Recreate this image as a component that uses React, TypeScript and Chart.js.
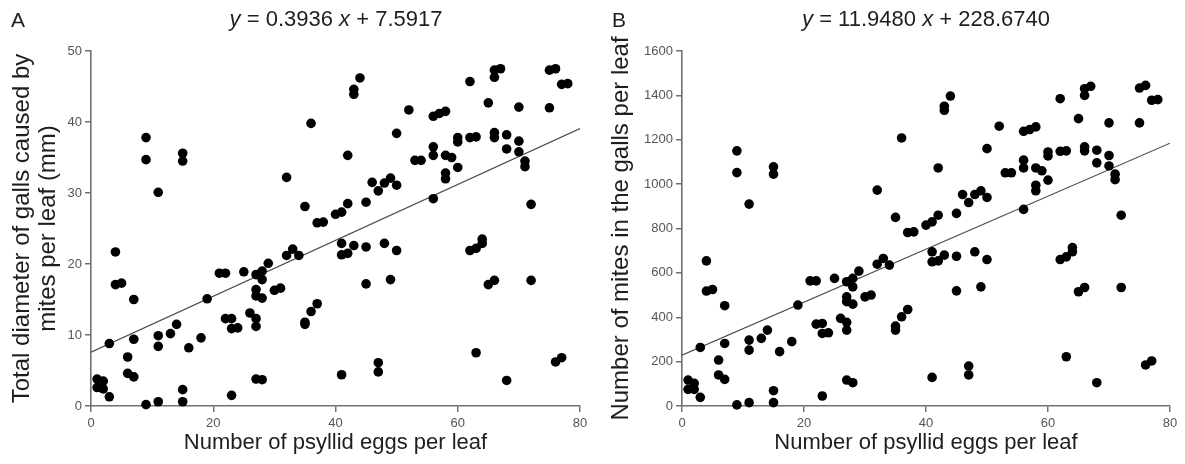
import React, { useEffect, useRef } from "react";
import { Chart, registerables } from "chart.js";

Chart.register(...registerables);

// ---------- data ----------
const eggs = [
  1, 1, 2, 2, 3, 3, 4, 4, 5, 6, 6, 7, 7, 7, 9, 9, 9, 11, 11, 11, 11, 13, 14, 15, 15, 15, 15, 16, 18, 19,
  21, 22, 22, 23, 23, 23, 24, 25, 26, 27, 27, 27, 27, 27, 27, 28, 28, 28, 28, 29, 30, 31, 32, 32, 33, 34,
  35, 35, 35, 36, 36, 37, 37, 38, 40, 41, 41, 41, 41, 42, 42, 42, 43, 43, 43, 44, 45, 45, 45, 46, 47, 47,
  47, 48, 48, 49, 49, 50, 50, 50, 52, 53, 54, 56, 56, 56, 56, 57, 58, 58, 58, 58, 59, 60, 60, 60, 62, 62,
  62, 63, 63, 63, 64, 64, 65, 65, 66, 66, 66, 66, 66, 67, 68, 68, 68, 70, 70, 70, 71, 71, 72, 72, 75, 75,
  76, 76, 77, 77, 78,
];

const gallDiameter = [
  3.8, 2.6, 3.5, 2.4, 1.3, 8.8, 21.7, 17.1, 17.3, 6.9, 4.6, 4.1, 9.4, 15.0, 0.2, 37.8, 34.7, 30.1, 9.9, 8.4,
  0.6, 10.2, 11.5, 35.6, 34.5, 2.3, 0.6, 8.2, 9.6, 15.1, 18.7, 18.7, 12.3, 12.3, 10.9, 1.5, 11.0, 18.9, 13.1,
  12.3, 11.2, 18.5, 16.4, 15.5, 3.8, 19.0, 17.8, 15.2, 3.7, 20.1, 16.3, 16.6, 32.2, 21.2, 22.1, 21.2, 28.1,
  11.8, 11.5, 39.8, 13.3, 14.4, 25.8, 25.9, 27.0, 27.3, 22.9, 21.3, 4.4, 28.5, 35.3, 21.5, 44.6, 43.9, 22.6,
  46.2, 28.7, 22.4, 17.2, 31.5, 30.3, 6.1, 4.8, 31.4, 22.9, 32.1, 17.8, 31.1, 38.4, 21.9, 41.7, 34.6, 34.6,
  40.8, 36.5, 35.3, 29.2, 41.2, 41.5, 35.3, 32.8, 32.0, 35.0, 37.8, 37.2, 33.6, 45.7, 37.8, 21.9, 37.9, 22.2,
  7.5, 22.9, 23.5, 42.7, 17.1, 47.3, 46.3, 38.5, 37.8, 17.7, 47.5, 38.2, 36.2, 3.6, 42.1, 37.3, 35.8, 34.5,
  33.7, 28.4, 17.7, 42.0, 47.3, 47.5, 6.2, 6.8, 45.3, 45.4,
];

const mites = [
  117, 75, 102, 75, 39, 264, 654, 518, 525, 207, 140, 120, 282, 452, 5, 1150, 1052, 910, 297, 252, 15, 305,
  342, 1078, 1045, 69, 15, 245, 290, 455, 564, 564, 369, 372, 327, 45, 330, 575, 395, 377, 342, 560, 492, 470,
  117, 575, 537, 459, 105, 608, 492, 500, 973, 639, 665, 635, 850, 360, 342, 1208, 402, 435, 782, 785, 815,
  830, 695, 650, 129, 860, 1073, 654, 1351, 1333, 680, 1397, 868, 675, 519, 953, 917, 180, 140, 953, 695, 970,
  537, 940, 1160, 660, 1261, 1051, 1051, 1238, 1108, 1073, 886, 1246, 1258, 1073, 995, 970, 1060, 1145, 1127,
  1018, 1385, 1148, 660, 1150, 672, 222, 695, 714, 1295, 515, 1430, 1400, 1168, 1150, 534, 1441, 1153, 1096,
  105, 1276, 1129, 1082, 1045, 1020, 860, 534, 1433, 1276, 1445, 185, 1378, 203, 1381,
];

const xTicks = [0, 20, 40, 60, 80];
const gallTicks = [0, 10, 20, 30, 40, 50];
const miteTicks = [0, 200, 400, 600, 800, 1000, 1200, 1400, 1600];

const slopeA = 0.3936;
const interceptA = 7.5917;
const slopeB = 11.948;
const interceptB = 228.674;

const xTitle = "Number of psyllid eggs per leaf";
const yTitleA = ["Total diameter of galls caused by", "mites per leaf (mm)"];
const yTitleB = "Number of mites in the galls per leaf";

// ---------- styling ----------
const FONT = "'Liberation Sans', Arial, Helvetica, sans-serif";
const AXIS = "#707070";
const TICK_TXT = "#555";
const TITLE_TXT = "#1e1e1e";
const H = 464;
const PLOT_TOP = 51;
const PLOT_BOTTOM = 406;

type PanelProps = {
  width: number;
  plotLeft: number;
  plotRight: number;
  ys: number[];
  yTicks: number[];
  yTitle: string | string[];
  yTitlePad: number;
  slope: number;
  intercept: number;
};

function Panel(p: PanelProps) {
  const ref = useRef<HTMLCanvasElement | null>(null);
  useEffect(() => {
    if (!ref.current) return;
    const pts = eggs.map((x, i) => ({ x, y: p.ys[i] }));
    const yMax = p.yTicks[p.yTicks.length - 1];
    const chart = new Chart(ref.current, {
      type: "scatter",
      data: {
        datasets: [
          {
            type: "line",
            data: [
              { x: 0, y: p.intercept },
              { x: 80, y: p.intercept + p.slope * 80 },
            ],
            borderColor: "#4d4d4d",
            borderWidth: 1.2,
            pointRadius: 0,
            fill: false,
            order: 1,
          } as any,
          {
            data: pts,
            backgroundColor: "#000",
            borderColor: "#000",
            borderWidth: 0,
            pointRadius: 4.8,
            pointHoverRadius: 4.8,
            clip: false,
            order: 0,
          } as any,
        ],
      },
      options: {
        animation: false,
        responsive: false,
        maintainAspectRatio: false,
        layout: { padding: { left: 0, top: PLOT_TOP, right: p.width - p.plotRight, bottom: 0 } },
        plugins: { legend: { display: false }, tooltip: { enabled: false } },
        events: [],
        scales: {
          x: {
            type: "linear",
            min: 0,
            max: 80,
            afterBuildTicks: (s: any) => {
              s.ticks = xTicks.map((v) => ({ value: v }));
            },
            afterFit: (s: any) => {
              s.height = H - PLOT_BOTTOM;
            },
            grid: {
              drawOnChartArea: false,
              drawTicks: true,
              tickLength: 6,
              color: AXIS,
              tickColor: AXIS,
              lineWidth: 1.5,
              tickWidth: 1.5,
            },
            border: { display: true, color: AXIS, width: 1.6 },
            ticks: {
              font: { size: 13, family: FONT },
              color: TICK_TXT,
              padding: 4,
              maxRotation: 0,
              callback: (v: any) => String(v),
            },
            title: {
              display: true,
              text: xTitle,
              color: TITLE_TXT,
              font: { size: 22, family: FONT, lineHeight: 1.15 },
              padding: { top: 0, bottom: 8 },
            },
          },
          y: {
            type: "linear",
            min: 0,
            max: yMax,
            afterBuildTicks: (s: any) => {
              s.ticks = p.yTicks.map((v) => ({ value: v }));
            },
            afterFit: (s: any) => {
              s.width = p.plotLeft;
            },
            grid: {
              drawOnChartArea: false,
              drawTicks: true,
              tickLength: 6,
              color: AXIS,
              tickColor: AXIS,
              lineWidth: 1.5,
              tickWidth: 1.5,
            },
            border: { display: true, color: AXIS, width: 1.6 },
            ticks: {
              font: { size: 13, family: FONT },
              color: TICK_TXT,
              padding: 3,
              callback: (v: any) => String(v),
            },
            title: {
              display: true,
              text: p.yTitle,
              color: TITLE_TXT,
              font: { size: 24, family: FONT, lineHeight: 1.08 },
              padding: { top: p.yTitlePad, bottom: 0 },
            },
          },
        },
      },
    } as any);
    return () => chart.destroy();
  }, []);
  return <canvas ref={ref} width={p.width} height={H} style={{ display: "block" }} />;
}

function Equation({ slope, intercept, cx }: { slope: string; intercept: string; cx: number }) {
  return (
    <div
      style={{
        position: "absolute",
        left: cx,
        top: 19,
        transform: "translate(-50%, -50%)",
        whiteSpace: "nowrap",
        fontFamily: FONT,
        fontSize: 22,
        color: TITLE_TXT,
        lineHeight: 1,
      }}
    >
      <i>y</i> = {slope} <i>x</i> + {intercept}
    </div>
  );
}

function Label({ text, left }: { text: string; left: number }) {
  return (
    <div
      style={{
        position: "absolute",
        left,
        top: 9,
        fontFamily: FONT,
        fontSize: 21,
        color: TITLE_TXT,
        lineHeight: 1,
      }}
    >
      {text}
    </div>
  );
}

export default function App() {
  const wA = 600;
  const wB = 585;
  return (
    <div style={{ position: "absolute", left: 0, top: 0, width: 1185, height: H, background: "#fff", overflow: "hidden" }}>
      <div style={{ position: "absolute", left: 0, top: 0 }}>
        <Panel
          width={wA}
          plotLeft={91}
          plotRight={580}
          ys={gallDiameter}
          yTicks={gallTicks}
          yTitle={yTitleA}
          yTitlePad={9}
          slope={slopeA}
          intercept={interceptA}
        />
      </div>
      <div style={{ position: "absolute", left: wA, top: 0 }}>
        <Panel
          width={wB}
          plotLeft={82}
          plotRight={570}
          ys={mites}
          yTicks={miteTicks}
          yTitle={yTitleB}
          yTitlePad={8}
          slope={slopeB}
          intercept={interceptB}
        />
      </div>
      <Label text="A" left={11} />
      <Label text="B" left={612} />
      <Equation slope="0.3936" intercept="7.5917" cx={336} />
      <Equation slope="11.9480" intercept="228.6740" cx={926} />
    </div>
  );
}
